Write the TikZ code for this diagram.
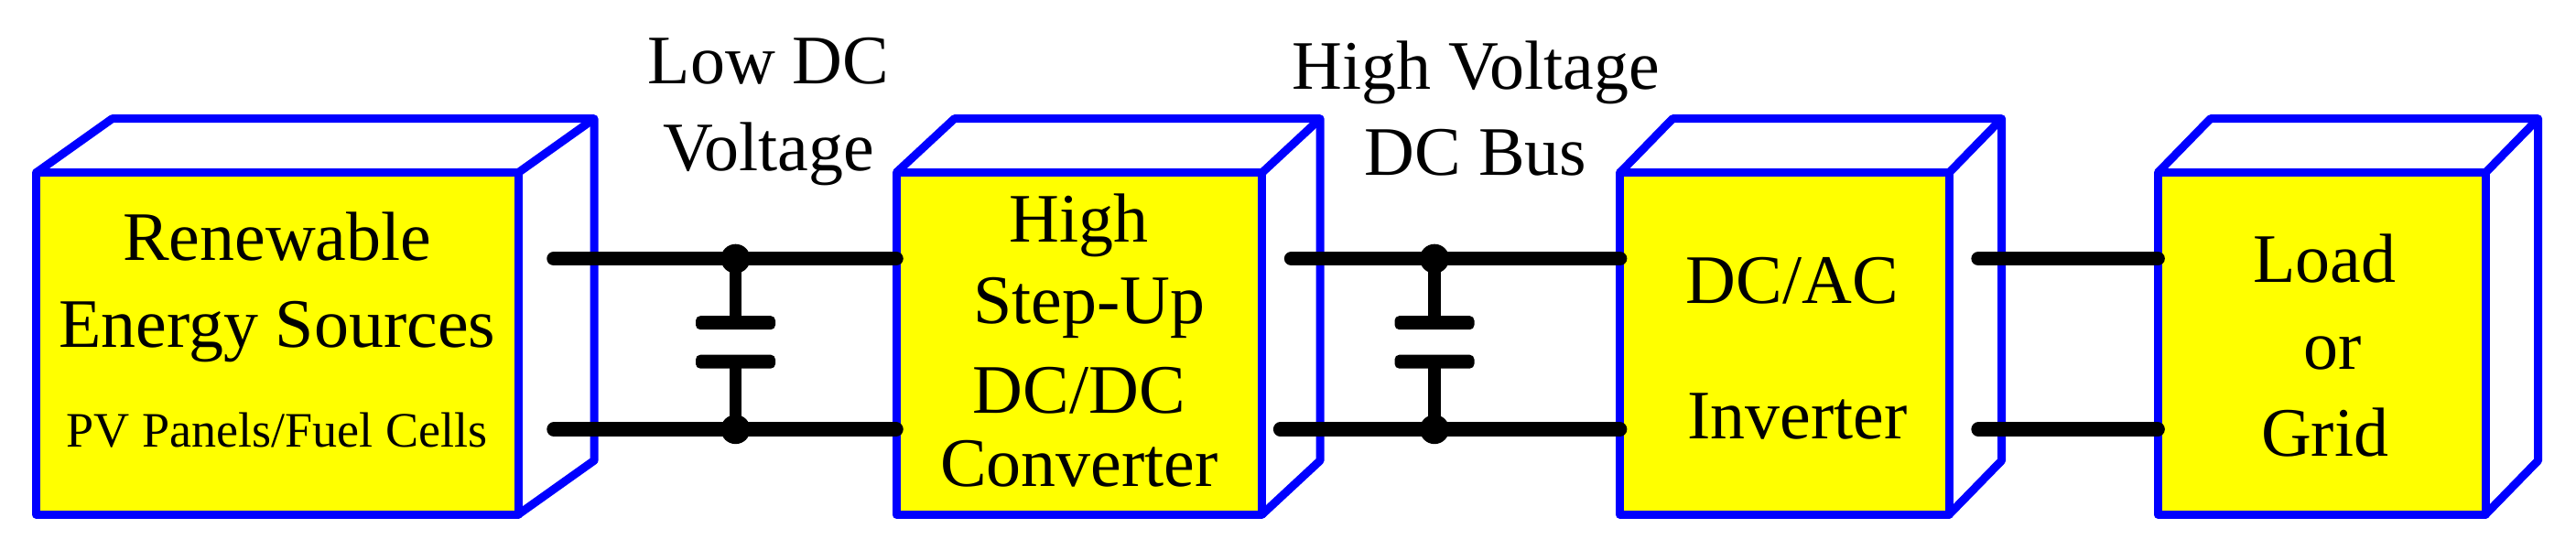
\documentclass[tikz,border=0pt]{standalone}
\usepackage{fontspec}
\setmainfont{Liberation Serif}
\usepackage{xcolor}
\usepackage{tikz}
\usetikzlibrary{arrows.meta, positioning, calc}
\definecolor{boxyellow}{RGB}{255,255,0}
\definecolor{boxblue}{RGB}{0,0,255}
\tikzset{
    stagediagram/.style={line join=round, outer sep=0pt},
    frontface/.style={draw=boxblue, fill=boxyellow, line width=0.09cm, inner sep=0pt, outer sep=0pt},
    sideface/.style={draw=boxblue, line width=0.09cm, line join=round},
    wire/.style={line width=0.155cm, line cap=round},
    stem/.style={line width=0.135cm},
    branch/.style={fill, circle, minimum size=0.32cm, inner sep=0pt},
    plate/.style={fill, rounded corners=0.05cm, minimum width=0.87cm, minimum height=0.15cm, inner sep=0pt},
    txt/.style={anchor=base, inner sep=0pt, font=\fontsize{21.6}{26}\selectfont},
    smalltxt/.style={anchor=base, inner sep=0pt, font=\fontsize{15.4}{18}\selectfont},
}
% top and right faces behind a front face: node name, depth
\newcommand{\sidefaces}[2]{
    \draw[sideface] (#1.north west) -- ++(#2,0.59) -- ([shift={(#2,0.59)}]#1.north east)
        -- ([shift={(#2,0.59)}]#1.south east) -- (#1.south east);
    \draw[sideface] (#1.north east) -- ++(#2,0.59);
}

\begin{document}
\begin{tikzpicture}[stagediagram]
    \useasboundingbox (0,0) rectangle (28.14,6.01);

    % front faces
    \node[frontface, minimum width=5.265cm, minimum height=3.735cm] (src) at (3.0275,2.255) {};
    \node[frontface, minimum width=3.996cm, minimum height=3.735cm, right=4.13cm of src]  (conv) {};
    \node[frontface, minimum width=3.595cm, minimum height=3.735cm, right=3.91cm of conv] (inv)  {};
    \node[frontface, minimum width=3.58cm, minimum height=3.735cm, right=2.28cm of inv]   (load) {};

    \sidefaces{src}{0.83}
    \sidefaces{conv}{0.635}
    \sidefaces{inv}{0.575}
    \sidefaces{load}{0.575}

    % box texts, baselines measured from the top of the front face
    \node[txt]      (srcA)  at ([yshift=-0.958cm]src.north) {Renewable};
    \node[txt]      (srcB)  at ([yshift=-1.909cm]src.north) {Energy Sources};
    \node[smalltxt] (srcC)  at ([yshift=-3.0cm]src.north)   {PV Panels/Fuel Cells};

    \node[txt] (convA) at ([yshift=-0.759cm]conv.north)                {High};
    \node[txt] (convB) at ([shift={(0.11,-1.648)}]conv.north)          {Step-Up};
    \node[txt] (convC) at ([yshift=-2.63cm]conv.north)                 {DC/DC};
    \node[txt] (convD) at ([yshift=-3.43cm]conv.north)                 {Converter};

    \node[txt] (invA)  at ([shift={(0.085,-1.429)}]inv.north)          {DC/AC};
    \node[txt] (invB)  at ([shift={(0.14,-2.904)}]inv.north)           {Inverter};

    \node[txt] (loadA) at ([shift={(0.03,-1.2)}]load.north)            {Load};
    \node[txt] (loadB) at ([shift={(0.12,-2.144)}]load.north)          {or};
    \node[txt] (loadC) at ([shift={(0.035,-3.094)}]load.north)         {Grid};

    % junctions and capacitors
    \node[branch] (lowT)  at ([shift={(2.375,0.928)}]src.east)   {};
    \node[branch] (lowB)  at ([shift={(2.375,-0.937)}]src.east)  {};
    \node[branch] (highT) at ([shift={(1.884,0.928)}]conv.east)  {};
    \node[branch] (highB) at ([shift={(1.884,-0.937)}]conv.east) {};

    \node[plate, below=0.625cm of lowT.center]  (lowcapT)  {};
    \node[plate, above=0.665cm of lowB.center]  (lowcapB)  {};
    \node[plate, below=0.625cm of highT.center] (highcapT) {};
    \node[plate, above=0.665cm of highB.center] (highcapB) {};

    \draw[stem] (lowT.center) -- (lowcapT.center);
    \draw[stem] (lowB.center) -- (lowcapB.center);
    \draw[stem] (highT.center) -- (highcapT.center);
    \draw[stem] (highB.center) -- (highcapB.center);

    % free ends of the wires
    \coordinate (srcT)  at ([shift={(0.39,0.928)}]src.east);
    \coordinate (srcB)  at ([shift={(0.39,-0.937)}]src.east);
    \coordinate (convT) at ([shift={(0.32,0.928)}]conv.east);
    \coordinate (convB) at ([shift={(0.2,-0.937)}]conv.east);
    \coordinate (invT)  at ([shift={(0.32,0.928)}]inv.east);
    \coordinate (invB)  at ([shift={(0.32,-0.937)}]inv.east);

    \draw[wire] (srcT) -- (lowT.center) -- (conv.west |- lowT);
    \draw[wire] (srcB) -- (lowB.center) -- (conv.west |- lowB);
    \draw[wire] (convT) -- (highT.center) -- (inv.west |- highT);
    \draw[wire] (convB) -- (highB.center) -- (inv.west |- highB);
    \draw[wire] (invT) -- (load.west |- invT);
    \draw[wire] (invB) -- (load.west |- invB);

    % bus labels
    \node[txt] (lowA)  at ([shift={(0.36,1.915)}]lowT.center)  {Low DC};
    \node[txt] (lowC)  at ([shift={(0.36,0.965)}]lowT.center)  {Voltage};
    \node[txt] (highA) at ([shift={(0.45,1.848)}]highT.center) {High Voltage};
    \node[txt] (highC) at ([shift={(0.45,0.909)}]highT.center) {DC Bus};
\end{tikzpicture}
\end{document}
